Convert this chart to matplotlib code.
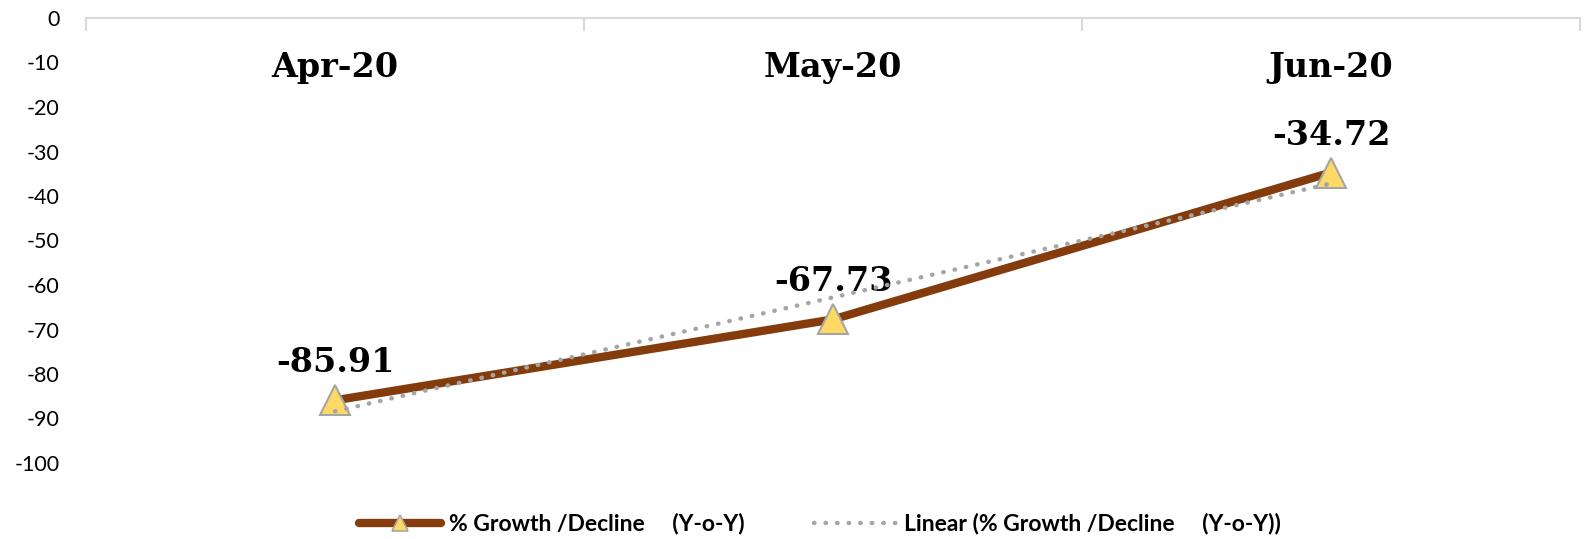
import matplotlib
matplotlib.use("Agg")
import matplotlib.pyplot as plt
import numpy as np
from matplotlib.transforms import blended_transform_factory
from matplotlib.lines import Line2D

categories = ["Apr-20", "May-20", "Jun-20"]
values = [-85.91, -67.73, -34.72]
yticks = [0, -10, -20, -30, -40, -50, -60, -70, -80, -90, -100]
series_name = "% Growth /Decline     (Y-o-Y)"
trend_name = "Linear (% Growth /Decline     (Y-o-Y))"

BROWN = "#843C0C"
GOLD = "#FFD966"
GRAY = "#A5A5A5"

fig = plt.figure(figsize=(15.92, 5.39), dpi=100)
ax = fig.add_axes([86/1592, 1-463/539, (1580-86)/1592, (463-18)/539])

x = np.arange(1, len(values) + 1)
coef = np.polyfit(x, values, 1)
trend = np.polyval(coef, x)

ax.plot(x, values, color=BROWN, lw=6, marker="^", markersize=22,
        markerfacecolor=GOLD, markeredgecolor=GRAY, markeredgewidth=1.5,
        solid_capstyle="round", zorder=3)
ax.plot(x, trend, color=GRAY, lw=3.2, linestyle=(0, (0.1, 2.5)),
        dash_capstyle="round", zorder=4)

for xi, v in zip(x, values):
    ax.annotate(f"{v:.2f}", (xi, v), xytext=(0, 27), textcoords="offset points",
                ha="center", va="center", fontsize=24, fontweight="bold",
                family="DejaVu Serif")

tr = blended_transform_factory(ax.transData, ax.transAxes)
for xi, c in zip(x, categories):
    ax.text(xi, 0.888, c, transform=tr, ha="center", va="center",
            fontsize=24, fontweight="bold", family="DejaVu Serif")

ax.set_xlim(0.5, len(values) + 0.5)
ax.set_ylim(-100, 0)
ax.set_yticks(yticks)
ax.set_yticklabels([str(t) for t in yticks], fontsize=15.5, family="Lato")
ax.tick_params(axis="y", length=0, pad=19)
ax.xaxis.tick_top()
ax.set_xticks(np.arange(0.5, len(values) + 1, 1.0))
ax.set_xticklabels([])
ax.tick_params(axis="x", direction="in", length=9, color="#D9D9D9", width=1.5)
for s in ["left", "right", "bottom"]:
    ax.spines[s].set_visible(False)
ax.spines["top"].set_color("#D9D9D9")
ax.spines["top"].set_linewidth(1.5)

h1 = Line2D([], [], color=BROWN, lw=6, marker="^", markersize=12,
            markerfacecolor=GOLD, markeredgecolor=GRAY, markeredgewidth=1.2,
            solid_capstyle="round")
h2 = Line2D([], [], color=GRAY, lw=3.2, linestyle=(0, (0.1, 2.5)),
            dash_capstyle="round")
fig.legend([h1, h2], [series_name, trend_name], loc="center",
           bbox_to_anchor=(820/1592, 1-524/539), ncol=2, frameon=False,
           prop={"family": "Lato", "weight": "bold", "size": 16.5},
           handlelength=3.6, columnspacing=3.0, handletextpad=0.35, markerscale=1.0)
fig.savefig("out.png", dpi=100)
